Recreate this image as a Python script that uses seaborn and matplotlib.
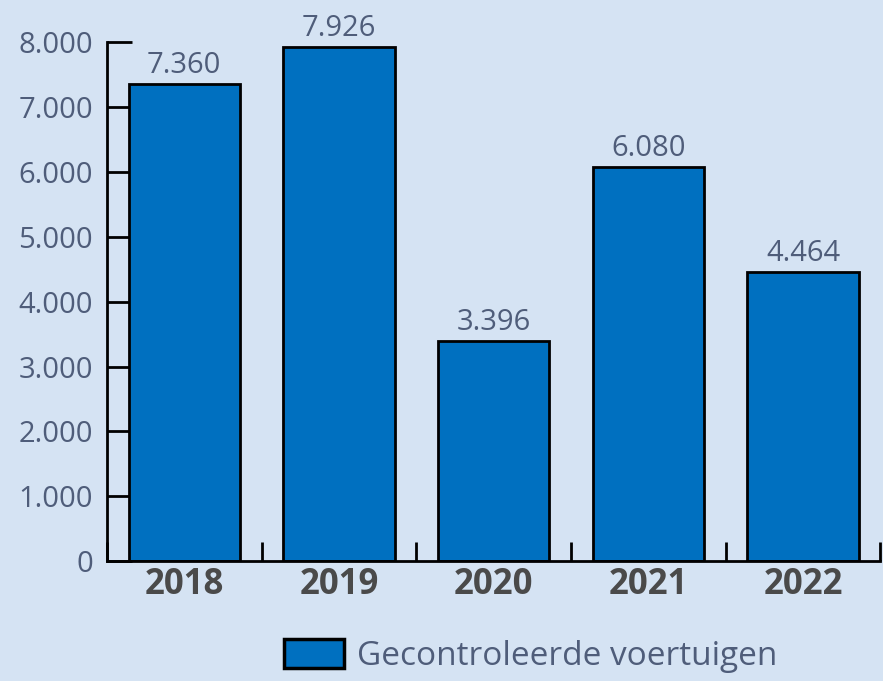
import numpy as np
import pandas as pd
import matplotlib
matplotlib.use('Agg')
import matplotlib.pyplot as plt
import seaborn as sns
from matplotlib.ticker import FuncFormatter, FixedLocator

years = ['2018', '2019', '2020', '2021', '2022']
voertuigen = [7360, 7926, 3396, 6080, 4464]
series_name = 'Gecontroleerde voertuigen'

bg = '#d5e3f3'
bar_color = '#0070c0'
num_color = '#4f5d7a'

sns.set_theme(style='white')
plt.rcParams['font.family'] = ['Open Sans', 'DejaVu Sans']

df = pd.DataFrame({'jaar': years, 'aantal': voertuigen, 'serie': series_name})

fig = plt.figure(figsize=(8.83, 6.81), dpi=100, facecolor=bg)
ax = fig.add_axes([0.121, 0.176, 0.876, 0.762])
ax.set_facecolor(bg)

sns.barplot(data=df, x='jaar', y='aantal', hue='serie', palette=[bar_color],
            width=0.72, edgecolor='black', linewidth=2, saturation=1, ax=ax)

def dotfmt(v, pos=None):
    return f'{int(v):,}'.replace(',', '.')

for p, v in zip(ax.patches, voertuigen):
    ax.text(p.get_x() + p.get_width() / 2, v + 60, dotfmt(v), ha='center', va='bottom',
            fontsize=21, color=num_color, clip_on=False)

ax.set_ylim(0, 8000)
ax.set_xlim(-0.5, 4.5)
ax.yaxis.set_major_locator(FixedLocator(np.arange(0, 8001, 1000)))
ax.yaxis.set_major_formatter(FuncFormatter(dotfmt))
ax.tick_params(axis='y', direction='in', length=18, width=2, color='black',
               labelsize=21, labelcolor=num_color, pad=10, left=True)
ax.set_xticks(np.arange(5))
ax.set_xticklabels(years, fontsize=25, fontweight='bold', color='#4a4a4a')
ax.tick_params(axis='x', length=0, pad=4)
ax.set_xticks(np.arange(-0.5, 5, 1), minor=True)
ax.tick_params(axis='x', which='minor', direction='in', length=14, width=2, color='black', bottom=True)

for s in ['top', 'right']:
    ax.spines[s].set_visible(False)
for s in ['left', 'bottom']:
    ax.spines[s].set_color('black')
    ax.spines[s].set_linewidth(2)

ax.set_xlabel('')
ax.set_ylabel('')

leg = ax.legend(loc='center', bbox_to_anchor=(0.548, -0.183), frameon=False,
                fontsize=24, handlelength=1.8, handleheight=0.95, handletextpad=0.4,
                labelcolor=num_color, borderpad=0, borderaxespad=0)
for h in leg.legend_handles:
    h.set_edgecolor('black')
    h.set_linewidth(2.5)

fig.savefig('out.png', dpi=100, facecolor=bg)
